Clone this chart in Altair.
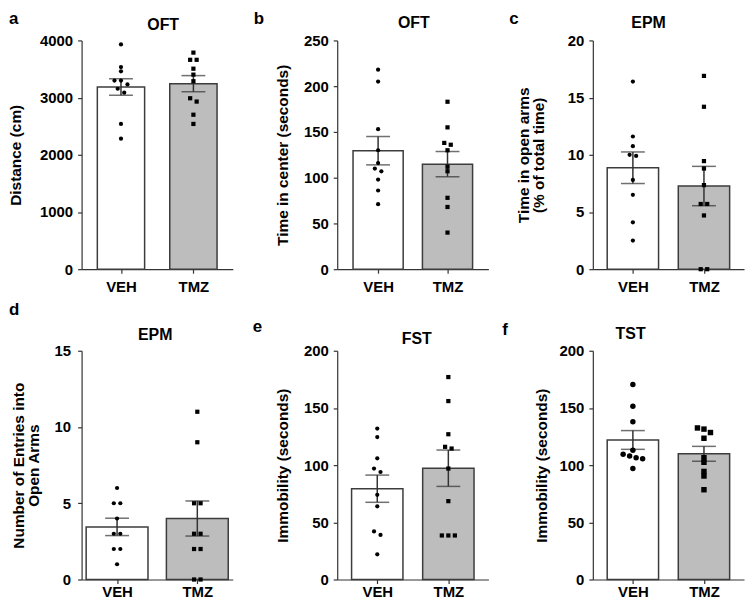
import altair as alt
import pandas as pd

groups = ["VEH", "TMZ"]

# ---- data ----
a_veh = [3931, 3534, 3460, 3299, 3299, 3230, 3155, 3086, 2540, 2282]
a_tmz = [3787, 3661, 3661, 3506, 3402, 3287, 2989, 2931, 2701, 2540]
a_mean = [3186, 3244]
a_sem = [146, 141]

b_veh = [218, 205, 153, 130, 116, 110, 107, 98, 86, 71]
b_tmz = [183, 155, 138, 136, 130, 112, 107, 78, 68, 40]
b_mean = [129.5, 114.8]
b_sem = [15.5, 13.8]

c_veh = [16.4, 11.6, 10.75, 10.0, 9.9, 7.8, 6.5, 4.1, 2.5]
c_tmz = [16.9, 14.2, 9.45, 8.8, 7.35, 5.7, 5.7, 4.7, 0, 0]
c_mean = [8.87, 7.27]
c_sem = [1.38, 1.72]

d_veh = [6, 5, 5, 4, 3, 3, 2, 2, 1]
d_tmz = [11, 9, 5, 5, 3, 3, 2, 2, 0, 0]
d_mean = [3.45, 4.0]
d_sem = [0.57, 1.15]

e_veh = [132, 124.5, 106, 97, 94, 74, 64, 42, 39, 22]
e_tmz = [177, 156, 127, 116, 114.5, 97, 68.5, 38.5, 38.5, 38.5]
e_mean = [79.4, 97.3]
e_sem = [11.9, 15.9]

f_veh = [170.5, 151.5, 138, 113, 109.5, 108, 106.5, 105.5, 97]
f_tmz = [132.5, 131.5, 128.5, 123.5, 106.5, 102.5, 94.5, 90.5, 78.5]
f_mean = [122.0, 109.9]
f_sem = [8.2, 6.5]

letters = ["a", "b", "c", "d", "e", "f"]
titles = ["OFT", "OFT", "EPM", "EPM", "FST", "TST"]
y_titles = [
    "Distance (cm)",
    "Time in center (seconds)",
    ["Time in open arms", "(% of total time)"],
    ["Number of Entries into", "Open Arms"],
    "Immobility (seconds)",
    "Immobility (seconds)",
]
y_ticks = [
    [0, 1000, 2000, 3000, 4000],
    [0, 50, 100, 150, 200, 250],
    [0, 5, 10, 15, 20],
    [0, 5, 10, 15],
    [0, 50, 100, 150, 200],
    [0, 50, 100, 150, 200],
]
veh_points = [a_veh, b_veh, c_veh, d_veh, e_veh, f_veh]
tmz_points = [a_tmz, b_tmz, c_tmz, d_tmz, e_tmz, f_tmz]
means = [a_mean, b_mean, c_mean, d_mean, e_mean, f_mean]
sems = [a_sem, b_sem, c_sem, d_sem, e_sem, f_sem]

# ---- layout / style ----
W, H = 152, 230
FONT = "Liberation Sans"
INK = "#333333"

styles = [
    dict(tp=16, lx=-73, ly=-17, tdx=6, toff=10, pi=0.39, po=0.17, fill="#bdbdbd", shapes=["circle", "square"], size=18, xpad=6, ypad=5),
    dict(tp=13, lx=-84, ly=-17, tdx=1, toff=12, pi=0.325, po=0.18, fill="#bdbdbd", shapes=["circle", "square"], size=18, xpad=6, ypad=5),
    dict(tp=21, lx=-84, ly=-17, tdx=-20, toff=13, pi=0.325, po=0.156, fill="#bdbdbd", shapes=["circle", "square"], size=18, xpad=6, ypad=5),
    dict(tp=13, lx=-73, ly=-36, tdx=-2, toff=11, pi=0.28, po=0.02, fill="#bdbdbd", shapes=["circle", "square"], size=18, xpad=1, ypad=7),
    dict(tp=13, lx=-85, ly=-19, tdx=4, toff=7, pi=0.325, po=0.156, fill="#bdbdbd", shapes=["circle", "square"], size=18, xpad=1, ypad=5),
    dict(tp=10, lx=-91, ly=-16, tdx=-38, toff=12, pi=0.325, po=0.156, fill="#d4d4d4", shapes=["circle", "circle"], size=30, xpad=1, ypad=5),
]

label_expr = "[" + ",".join("'%s'" % g for g in groups) + "][datum.value - 1]"


def swarm(vals, ymax, sep_px=4.0, step_px=7.0):
    """Spread points whose pixel heights nearly coincide, symmetric about the centre."""
    px = [v / ymax * H for v in vals]
    order = sorted(range(len(vals)), key=lambda i: -px[i])
    offs = [0.0] * len(vals)
    clusters, cur = [], [order[0]]
    for i in order[1:]:
        if px[cur[-1]] - px[i] < sep_px:
            cur.append(i)
        else:
            clusters.append(cur)
            cur = [i]
    clusters.append(cur)
    for cl in clusters:
        n = len(cl)
        for k, i in enumerate(cl):
            offs[i] = (k - (n - 1) / 2) * step_px
    return offs


def panel(i):
    st = styles[i]
    ymax = y_ticks[i][-1]
    step = W / (2 - st["pi"] + 2 * st["po"])
    bw = step * (1 - st["pi"])
    c1 = st["po"] * step + bw / 2          # pixel centre of first group
    dom = [1 - c1 / step, 1 + (W - c1) / step]

    summ = pd.DataFrame({
        "group": groups,
        "pos": [1, 2],
        "mean": means[i],
        "lo": [m - s for m, s in zip(means[i], sems[i])],
        "hi": [m + s for m, s in zip(means[i], sems[i])],
    })
    rows = []
    for k, (g, vals) in enumerate(zip(groups, [veh_points[i], tmz_points[i]])):
        for v, o in zip(vals, swarm(vals, ymax)):
            rows.append({"group": g, "value": v, "px": k + 1 + o / step})
    pts = pd.DataFrame(rows)

    xscale = alt.Scale(domain=dom, nice=False, zero=False)
    xaxis = alt.Axis(values=[1, 2], labelExpr=label_expr, labelAngle=0, labelPadding=st["xpad"],
                     grid=False, title=None, labelFontSize=15)
    yscale = alt.Scale(domain=[0, ymax], nice=False, zero=True)
    yaxis = alt.Axis(values=y_ticks[i], format="d", grid=False, title=y_titles[i],
                     titlePadding=st["tp"], labelPadding=st["ypad"])

    bars = alt.Chart(summ).mark_bar(stroke="#3c3c3c", strokeWidth=1.5, width=bw).encode(
        x=alt.X("pos:Q", scale=xscale, axis=xaxis),
        y=alt.Y("mean:Q", scale=yscale, axis=yaxis),
        color=alt.Color("group:N", scale=alt.Scale(domain=groups, range=["#ffffff", st["fill"]]), legend=None),
    )
    stem = alt.Chart(summ).mark_rule(color=INK, strokeWidth=1.5).encode(
        x=alt.X("pos:Q", scale=xscale), y=alt.Y("lo:Q", scale=yscale), y2="hi:Q"
    )
    cap_lo = alt.Chart(summ).mark_tick(color=INK, thickness=1.5, size=24, orient="horizontal").encode(
        x=alt.X("pos:Q", scale=xscale), y=alt.Y("lo:Q", scale=yscale)
    )
    cap_hi = alt.Chart(summ).mark_tick(color=INK, thickness=1.5, size=24, orient="horizontal").encode(
        x=alt.X("pos:Q", scale=xscale), y=alt.Y("hi:Q", scale=yscale)
    )
    dots = alt.Chart(pts).mark_point(filled=True, color="black", opacity=1, size=st["size"]).encode(
        x=alt.X("px:Q", scale=xscale),
        y=alt.Y("value:Q", scale=yscale),
        shape=alt.Shape("group:N", scale=alt.Scale(domain=groups, range=st["shapes"]), legend=None),
    )
    lab = pd.DataFrame({"letter": [letters[i]], "title": [titles[i]]})
    letter = alt.Chart(lab).mark_text(
        align="left", baseline="alphabetic", fontSize=17, fontWeight="bold", font=FONT, color="black"
    ).encode(x=alt.value(st["lx"]), y=alt.value(st["ly"]), text="letter:N")
    head = alt.Chart(lab).mark_text(
        align="center", baseline="alphabetic", fontSize=16, fontWeight="bold", font=FONT, color="black"
    ).encode(x=alt.value(W / 2 + st["tdx"]), y=alt.value(-st["toff"]), text="title:N")

    return alt.layer(bars, stem, cap_lo, cap_hi, dots, letter, head).properties(width=W, height=H)


chart = alt.concat(
    *[panel(i) for i in range(6)],
    columns=3,
    spacing={"row": 82, "column": 105},
    bounds="flush",
).properties(
    padding={"left": 0, "top": 0, "right": 2, "bottom": 0}
).configure_view(
    strokeWidth=0
).configure_axis(
    domainColor=INK, domainWidth=1.2, tickColor=INK, tickSize=4, tickWidth=1.2,
    labelFont=FONT, labelFontWeight="bold", labelFontSize=15, labelColor="black",
    titleFont=FONT, titleFontWeight="bold", titleFontSize=15.5, titleColor="black",
    titleLineHeight=15,
)

chart.save("out.html", embed_options={"renderer": "svg", "actions": False})
